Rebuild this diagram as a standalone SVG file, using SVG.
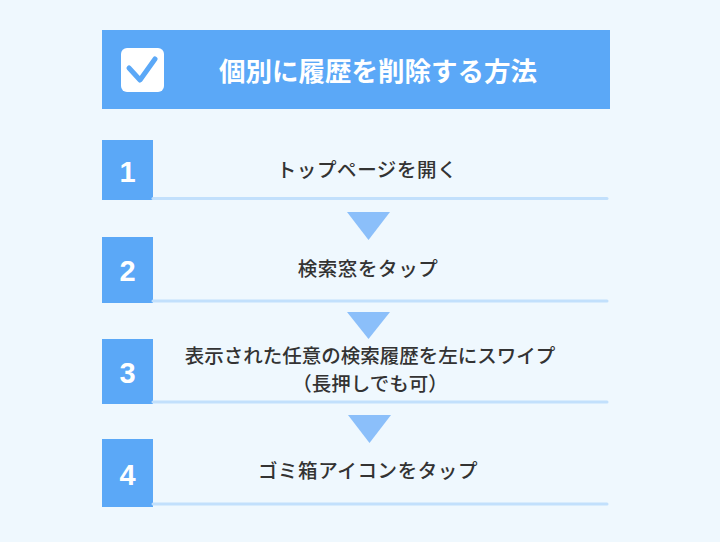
<svg xmlns="http://www.w3.org/2000/svg" width="720" height="542" viewBox="0 0 720 542">
<defs>
<style>
.bg{fill:#eff8fe}
.blue{fill:#5ba8f7}
.num{fill:#fff;font-family:"Liberation Sans","Noto Sans",sans-serif;font-weight:bold;font-size:29px;text-anchor:middle}
.txt{fill:#333;font-family:"Noto Sans CJK JP","Noto Sans CJK SC",sans-serif;font-weight:500;font-size:19.5px;text-anchor:middle}
.title{fill:#fff;font-family:"Noto Sans CJK JP","Noto Sans CJK SC",sans-serif;font-weight:bold;font-size:26.5px;text-anchor:middle}
.line{stroke:#c2e0fc;stroke-width:3;stroke-linecap:round;fill:none}
.tri{fill:#8bbffa}
</style>
</defs>
<rect class="bg" x="0" y="0" width="720" height="542"/>
<g id="title">
<rect class="blue" x="102" y="30" width="508" height="79"/>
<rect x="121" y="48" width="43" height="44" rx="6" fill="#fff"/>
<polyline points="129,68 140,80 155,59" fill="none" stroke="#5ba8f7" stroke-width="5" stroke-linecap="round" stroke-linejoin="round"/>
<text class="title" x="378" y="81">個別に履歴を削除する方法</text>
</g>
<g id="step1">
<rect class="blue" x="102" y="140" width="51" height="60"/>
<text class="num" x="127.5" y="182">1</text>
<line class="line" x1="153" y1="198.5" x2="607" y2="198.5"/>
<text class="txt" x="367" y="177" letter-spacing="0.6">トップページを開く</text>
</g>
<g id="step2">
<rect class="blue" x="102" y="237" width="51" height="66"/>
<text class="num" x="127.5" y="281">2</text>
<line class="line" x1="153" y1="301" x2="607" y2="301"/>
<text class="txt" x="368" y="276" letter-spacing="0.6">検索窓をタップ</text>
</g>
<g id="step3">
<rect class="blue" x="102" y="339" width="51" height="65"/>
<text class="num" x="127.5" y="383">3</text>
<line class="line" x1="153" y1="402" x2="607" y2="402"/>
<text class="txt" x="370" y="363">表示された任意の検索履歴を左にスワイプ</text>
<text class="txt" x="370" y="391">（長押しでも可）</text>
</g>
<g id="step4">
<rect class="blue" x="102" y="439" width="51" height="68"/>
<text class="num" x="127.5" y="485">4</text>
<line class="line" x1="153" y1="504" x2="607" y2="504"/>
<text class="txt" x="368" y="478" letter-spacing="0.6">ゴミ箱アイコンをタップ</text>
</g>
<g id="connectors">
<polygon class="tri" points="347,212 390,212 368.5,240"/>
<polygon class="tri" points="347,312 390,312 368.5,339"/>
<polygon class="tri" points="348,415 391,415 369.5,443"/>
</g>
</svg>
